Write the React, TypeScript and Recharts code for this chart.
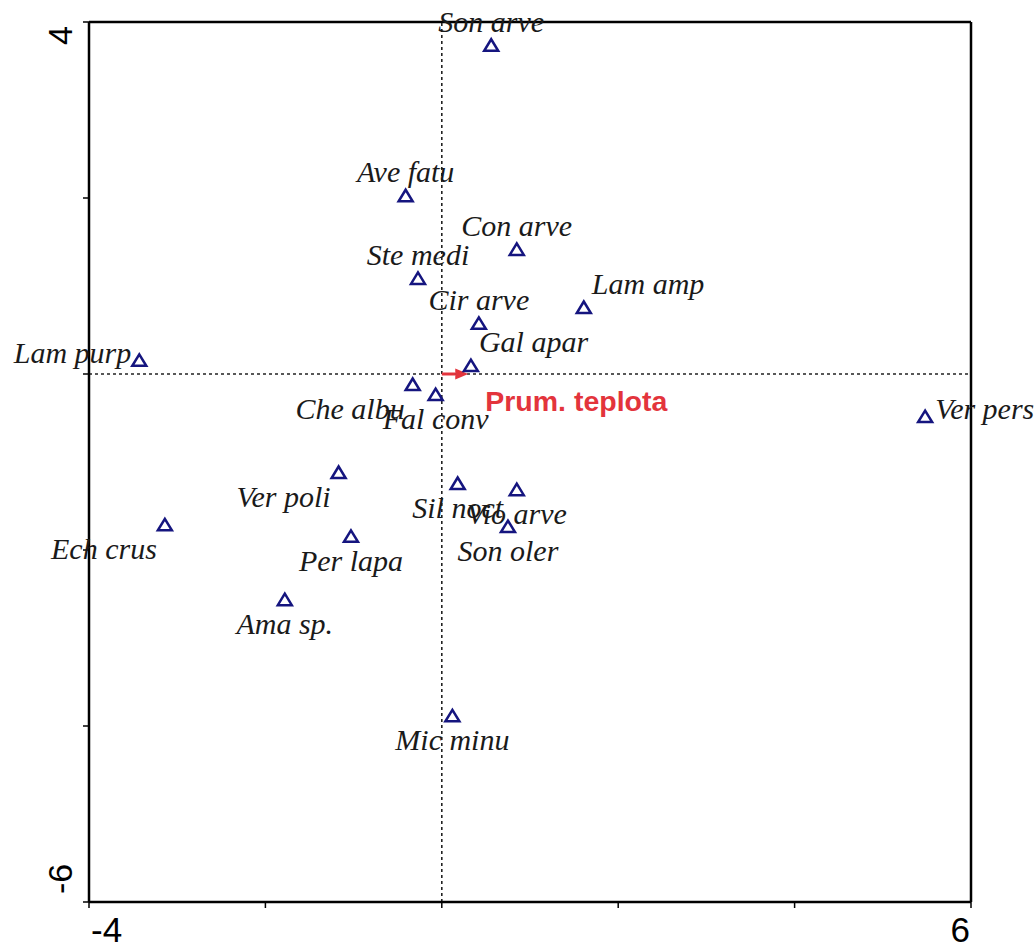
import React from "react";
import {
  ScatterChart,
  Scatter,
  XAxis,
  YAxis,
  ReferenceLine,
} from "recharts";

// ─── Data (species scores on ordination axes 1 and 2) ────────────────────────

const SPECIES = [
  "Son arve", "Ave fatu", "Con arve", "Ste medi", "Lam amp", "Cir arve",
  "Lam purp", "Gal apar", "Che albu", "Fal conv", "Ver pers", "Ver poli",
  "Sil noct", "Vio arve", "Son oler", "Ech crus", "Per lapa", "Ama sp.",
  "Mic minu",
];
const AXIS1 = [
  0.56, -0.41, 0.85, -0.27, 1.61, 0.42,
  -3.43, 0.33, -0.33, -0.07, 5.48, -1.17,
  0.18, 0.85, 0.75, -3.14, -1.03, -1.78,
  0.12,
];
const AXIS2 = [
  3.73, 2.02, 1.41, 1.08, 0.75, 0.57,
  0.15, 0.09, -0.125, -0.24, -0.49, -1.125,
  -1.25, -1.32, -1.74, -1.72, -1.85, -2.57,
  -3.89,
];
// where each species name sits relative to its point
const LABEL_SIDE = [
  "above", "above", "above", "above", "aboveRight", "above",
  "left", "aboveRight", "belowLeft", "below", "right", "belowLeft",
  "below", "below", "below", "belowLeft", "below", "below",
  "below",
];

// environmental variable arrow
const ENV_NAME = "Prum. teplota";
const ENV_X = 0.3;
const ENV_Y = 0;

const X_TICKS = [-4, -2, 0, 2, 4, 6];
const Y_TICKS = [-6, -4, -2, 0, 2, 4];

// ─── Colours / fonts ─────────────────────────────────────────────────────────

const NAVY = "#15157f";
const RED = "#e3343c";
const SERIF = "'Liberation Serif', 'Times New Roman', serif";
const SANS = "'Liberation Sans', Arial, sans-serif";

const rows = SPECIES.map((name, i) => ({
  name,
  x: AXIS1[i],
  y: AXIS2[i],
  side: LABEL_SIDE[i],
}));

// ─── Point shape: open triangle + italic name ────────────────────────────────

function SpeciesPoint(props: any) {
  const { cx, cy, payload } = props;
  if (cx == null || cy == null) return null;
  let tx = cx;
  let ty = cy;
  let anchor: "start" | "middle" | "end" = "middle";
  switch (payload.side) {
    case "above":
      ty = cy - 14;
      break;
    case "aboveRight":
      tx = cx + 8;
      ty = cy - 14;
      anchor = "start";
      break;
    case "left":
      tx = cx - 8;
      ty = cy + 2;
      anchor = "end";
      break;
    case "right":
      tx = cx + 10;
      ty = cy + 2;
      anchor = "start";
      break;
    case "belowLeft":
      tx = cx - 8;
      ty = cy + 34;
      anchor = "end";
      break;
    default:
      ty = cy + 34;
  }
  return (
    <g>
      <polygon
        points={`${cx},${cy - 6.5} ${cx - 7},${cy + 5} ${cx + 7},${cy + 5}`}
        fill="none"
        stroke={NAVY}
        strokeWidth={2.5}
      />
      <text
        x={tx}
        y={ty}
        textAnchor={anchor}
        fontFamily={SERIF}
        fontStyle="italic"
        fontSize={30}
        fill="#1a1a1a"
      >
        {payload.name}
      </text>
    </g>
  );
}

// ─── Arrow for the environmental variable ────────────────────────────────────

function EnvArrow(props: any) {
  const { x1, y1, x2, y2 } = props;
  if (x1 == null || x2 == null) return null;
  const ang = Math.atan2(y2 - y1, x2 - x1);
  const len = 13;
  const half = 5.5;
  const bx = x2 - len * Math.cos(ang);
  const by = y2 - len * Math.sin(ang);
  const px = -Math.sin(ang) * half;
  const py = Math.cos(ang) * half;
  return (
    <g>
      <line x1={x1} y1={y1} x2={bx} y2={by} stroke={RED} strokeWidth={3} />
      <polygon
        points={`${x2},${y2} ${bx + px},${by + py} ${bx - px},${by - py}`}
        fill={RED}
      />
      <text
        x={x2 + 17}
        y={y2 + 37}
        fontFamily={SANS}
        fontWeight="bold"
        fontSize={28.5}
        fill={RED}
      >
        {ENV_NAME}
      </text>
    </g>
  );
}

// ─── Tick labels: only the extremes, pushed inward ───────────────────────────

function XTick(props: any) {
  const { x, y, payload } = props;
  const v = payload.value;
  if (v !== X_TICKS[0] && v !== X_TICKS[X_TICKS.length - 1]) return null;
  const first = v === X_TICKS[0];
  return (
    <text
      x={first ? x + 2 : x - 1}
      y={y + 32}
      textAnchor={first ? "start" : "end"}
      fontFamily={SANS}
      fontSize={35}
      fill="#000"
    >
      {v}
    </text>
  );
}

function YTick(props: any) {
  const { x, y, payload } = props;
  const v = payload.value;
  if (v !== Y_TICKS[0] && v !== Y_TICKS[Y_TICKS.length - 1]) return null;
  const top = v === Y_TICKS[Y_TICKS.length - 1];
  const tx = x - 9;
  const ty = top ? y + 4 : y - 8;
  return (
    <text
      x={tx}
      y={ty}
      transform={`rotate(-90, ${tx}, ${ty})`}
      textAnchor={top ? "end" : "start"}
      fontFamily={SANS}
      fontSize={34}
      fill="#000"
    >
      {v}
    </text>
  );
}

// ─── Chart ───────────────────────────────────────────────────────────────────

export default function App() {
  return (
    <div style={{ position: "absolute", left: 0, top: 0, background: "#fff" }}>
      <ScatterChart
        width={1036}
        height={945}
        margin={{ top: 22, right: 65, bottom: 0, left: 0 }}
      >
        <XAxis
          type="number"
          dataKey="x"
          domain={[X_TICKS[0], X_TICKS[X_TICKS.length - 1]]}
          ticks={X_TICKS}
          height={43}
          stroke="#000"
          axisLine={{ stroke: "#000", strokeWidth: 2.5 }}
          tickLine={{ stroke: "#000", strokeWidth: 1.5 }}
          tickSize={6}
          tick={<XTick />}
        />
        <YAxis
          type="number"
          dataKey="y"
          domain={[Y_TICKS[0], Y_TICKS[Y_TICKS.length - 1]]}
          ticks={Y_TICKS}
          width={89}
          stroke="#000"
          axisLine={{ stroke: "#000", strokeWidth: 2.5 }}
          tickLine={{ stroke: "#000", strokeWidth: 1.5 }}
          tickSize={6}
          tick={<YTick />}
        />
        {/* frame: top and right */}
        <ReferenceLine y={Y_TICKS[Y_TICKS.length - 1]} stroke="#000" strokeWidth={2.5} />
        <ReferenceLine x={X_TICKS[X_TICKS.length - 1]} stroke="#000" strokeWidth={2.5} />
        {/* zero lines */}
        <ReferenceLine x={0} stroke="#222" strokeWidth={1.6} strokeDasharray="3 3" />
        <ReferenceLine y={0} stroke="#222" strokeWidth={1.6} strokeDasharray="3 3" />
        <ReferenceLine
          segment={[
            { x: 0, y: 0 },
            { x: ENV_X, y: ENV_Y },
          ]}
          shape={(p: any) => <EnvArrow {...p} />}
        />
        <Scatter
          data={rows}
          isAnimationActive={false}
          shape={(p: any) => <SpeciesPoint {...p} />}
        />
      </ScatterChart>
    </div>
  );
}
